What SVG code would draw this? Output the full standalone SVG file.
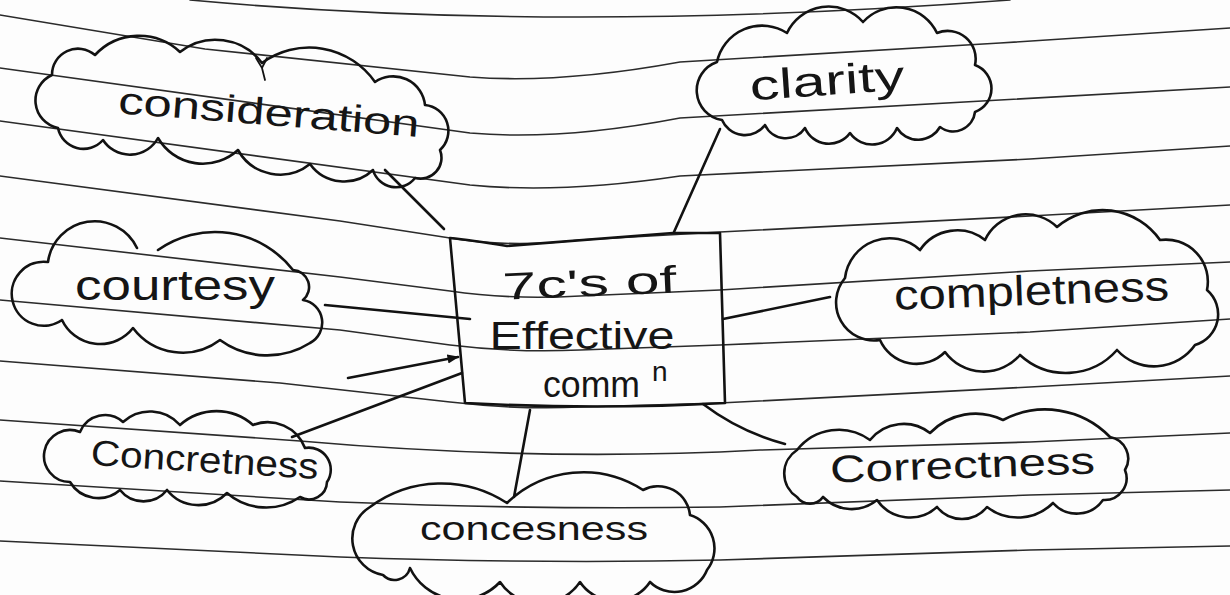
<svg xmlns="http://www.w3.org/2000/svg" width="1230" height="595" viewBox="0 0 1230 595">
  <defs>
    <style>
      .rule { fill: none; stroke: #2b2b2b; stroke-width: 1.6; stroke-linejoin: round; stroke-linecap: round; }
      .pen { fill: none; stroke: #121212; stroke-width: 2.6; stroke-linecap: round; stroke-linejoin: round; }
      .thin { fill: none; stroke: #121212; stroke-width: 1.8; stroke-linecap: round; }
      .hw { font-family: "Liberation Sans", "DejaVu Sans", sans-serif; fill: #151515; }
    </style>
    <marker id="arr" viewBox="0 0 10 10" refX="9" refY="5" markerWidth="4.5" markerHeight="4.5" orient="auto">
      <path d="M0,1 L10,5 L0,9 z" fill="#121212"/>
    </marker>
  </defs>

  <rect x="0" y="0" width="1230" height="595" fill="#fdfdfd"/>

  <g id="paper-lines">
    <path class="rule" d="M190,0 Q560,34 1010,0"/>
    <path class="rule" d="M0,15 L205,49 L470,77 Q560,84 680,62 L1000,43 L1230,28"/>
    <path class="rule" d="M0,68 L470,133 Q560,141 680,118 L1000,100 L1230,87"/>
    <path class="rule" d="M0,121 L470,185 Q560,194 680,176 L1030,159 L1230,146"/>
    <path class="rule" d="M0,176 L340,221 L450,238 Q510,248 580,240 L720,232 L1030,216 L1230,205"/>
    <path class="rule" d="M0,238 L340,277 L450,291 Q510,300 580,296 L720,290 L1030,271 L1230,262"/>
    <path class="rule" d="M0,300 L340,330 L450,345 Q515,353 580,350 L720,345 L1030,332 L1230,319"/>
    <path class="rule" d="M0,361 L280,383 L450,402 Q520,410 580,407 L720,403 L1030,387 L1230,376"/>
    <path class="rule" d="M0,420 L300,441 Q540,462 760,450 L1030,442 L1230,433"/>
    <path class="rule" d="M0,481 L340,502 Q540,510 720,507 L1030,495 L1230,490"/>
    <path class="rule" d="M0,541 L340,557 Q540,564 720,560 L1030,550 L1230,546"/>
  </g>

  <g id="connectors">
    <path class="pen" d="M385,170 L444,229"/>
    <path class="pen" d="M720,129 L674,232"/>
    <path class="pen" d="M325,305 L470,319"/>
    <path class="pen" d="M723,319 L830,297"/>
    <path class="pen" d="M348,378 L458,357" marker-end="url(#arr)"/>
    <path class="pen" d="M292,437 L462,373"/>
    <path class="pen" d="M530,410 L514,497"/>
    <path class="pen" d="M703,404 Q740,432 785,444"/>
  </g>

  <g id="center">
    <path class="pen" d="M450,238 Q470,240 507,246 L673,233 L720,233 L725,403 Q600,410 465,403 Z"/>
    <text class="hw" x="590" y="296" font-size="38" text-anchor="middle" textLength="174" lengthAdjust="spacingAndGlyphs" transform="rotate(-2.5 590 296)">7c's of</text>
    <text class="hw" x="582" y="349" font-size="38" text-anchor="middle" textLength="185" lengthAdjust="spacingAndGlyphs">Effective</text>
    <text class="hw" x="543" y="397" font-size="36"><tspan textLength="97" lengthAdjust="spacingAndGlyphs">comm</tspan><tspan dx="12" dy="-16" font-size="28">n</tspan></text>
  </g>

  <g id="consideration">
    <path class="pen" d="M58,128 A28,28 0 0 1 52,75 A26,26 0 0 1 95,55 A60,60 0 0 1 180,52 A58,58 0 0 1 262,63 A80,80 0 0 1 375,82 A32,32 0 0 1 425,105 A26,26 0 0 1 440,150 A21,21 0 0 1 415,178 A24,24 0 0 1 373,170 A42,42 0 0 1 310,164 A48,48 0 0 1 238,150 A52,52 0 0 1 158,138 A32,32 0 0 1 103,140 A26,26 0 0 1 58,128 Z"/>
    <path class="thin" d="M256,58 L262,68 L267,58 M262,68 L265,80"/>
    <text class="hw" x="268" y="125" font-size="38" text-anchor="middle" textLength="302" lengthAdjust="spacingAndGlyphs" transform="rotate(4.5 268 125)">consideration</text>
  </g>

  <g id="clarity">
    <path class="pen" d="M722,120 A30,30 0 0 1 717,62 A46,46 0 0 1 787,33 A46,46 0 0 1 863,22 A45,45 0 0 1 937,33 A28,28 0 0 1 975,65 A25,25 0 0 1 975,112 A22,22 0 0 1 940,127 A25,25 0 0 1 897,128 A27,27 0 0 1 850,133 A26,26 0 0 1 805,128 A23,23 0 0 1 765,125 A25,25 0 0 1 722,120 Z"/>
    <text class="hw" x="828" y="95" font-size="42" text-anchor="middle" textLength="155" lengthAdjust="spacingAndGlyphs" transform="rotate(-4 828 95)">clarity</text>
  </g>

  <g id="courtesy">
    <path class="pen" d="M62,320 A32,32 0 1 1 48,262 A47,47 0 0 1 137,248 M158,250 A99,99 0 0 1 293,270 A17,17 0 0 1 303,300 A23,23 0 0 1 310,343 A80,80 0 0 1 220,340 A62,62 0 0 1 133,328 A42,42 0 0 1 62,320"/>
    <text class="hw" x="175" y="300" font-size="42" text-anchor="middle" textLength="200" lengthAdjust="spacingAndGlyphs">courtesy</text>
  </g>

  <g id="completness">
    <path class="pen" d="M880,340 A38,38 0 0 1 845,278 A45,45 0 0 1 920,250 A45,45 0 0 1 985,240 A45,45 0 0 1 1057,227 A70,70 0 0 1 1160,240 A42,42 0 0 1 1207,290 A32,32 0 0 1 1195,345 A50,50 0 0 1 1117,350 A68,68 0 0 1 1020,355 A48,48 0 0 1 945,352 A40,40 0 0 1 880,340 Z"/>
    <text class="hw" x="1032" y="305" font-size="42" text-anchor="middle" textLength="275" lengthAdjust="spacingAndGlyphs" transform="rotate(-2 1032 305)">completness</text>
  </g>

  <g id="concretness">
    <path class="pen" d="M70,482 A26,26 0 1 1 80,432 A27,27 0 0 1 123,422 A40,40 0 0 1 180,425 A55,55 0 0 1 253,425 A40,40 0 0 1 305,448 A22,22 0 0 1 327,482 A18,18 0 0 1 300,497 A60,60 0 0 1 227,493 A40,40 0 0 1 167,490 A30,30 0 0 1 120,490 A33,33 0 0 1 70,482 Z"/>
    <text class="hw" x="204" y="472" font-size="36" text-anchor="middle" textLength="228" lengthAdjust="spacingAndGlyphs" transform="rotate(3.5 204 472)">Concretness</text>
  </g>

  <g id="concesness">
    <path class="pen" d="M383,575 A37,37 0 0 1 370,507 A120,120 0 0 1 507,503 A110,110 0 0 1 643,490 A32,32 0 0 1 690,515 A35,35 0 0 1 707,570 A35,35 0 0 1 650,582 A42,42 0 0 1 580,582 A48,48 0 0 1 500,582 A55,55 0 0 1 410,568 A16,16 0 0 1 383,575 Z"/>
    <text class="hw" x="534" y="540" font-size="34" text-anchor="middle" textLength="228" lengthAdjust="spacingAndGlyphs">concesness</text>
  </g>

  <g id="correctness">
    <path class="pen" d="M797,497 A28,28 0 0 1 797,450 A53,53 0 0 1 870,440 A43,43 0 0 1 930,433 A63,63 0 0 1 1003,420 A90,90 0 0 1 1110,437 A22,22 0 0 1 1125,470 A22,22 0 0 1 1103,500 A32,32 0 0 1 1053,503 A50,50 0 0 1 987,507 A32,32 0 0 1 937,507 A40,40 0 0 1 877,500 A40,40 0 0 1 823,497 A16,16 0 0 1 797,497 Z"/>
    <text class="hw" x="963" y="478" font-size="38" text-anchor="middle" textLength="265" lengthAdjust="spacingAndGlyphs" transform="rotate(-2 963 478)">Correctness</text>
  </g>
</svg>
